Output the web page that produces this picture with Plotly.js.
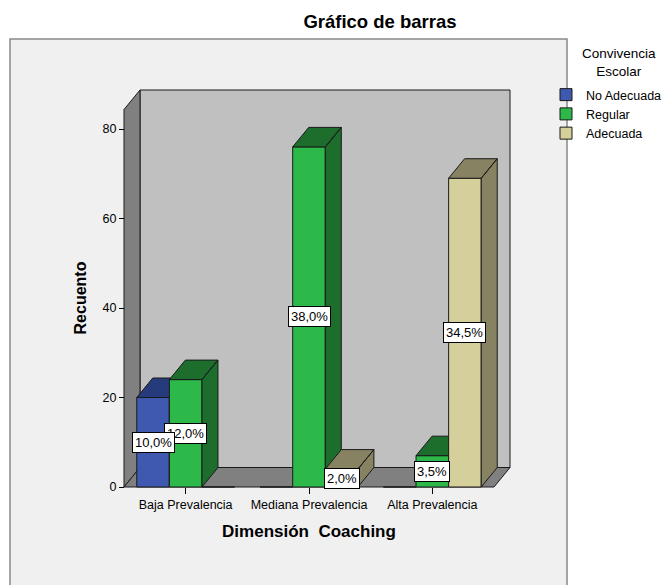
<!DOCTYPE html>
<html>
<head>
<meta charset="utf-8">
<script src="https://cdn.plot.ly/plotly-3.0.1.min.js"></script>
<style>html,body{margin:0;padding:0;background:#fff;}#chart{width:665px;height:585px;}</style>
</head>
<body>
<div id="chart"></div>
<script>
// ---- data ----
const categories = ['Baja Prevalencia', 'Mediana Prevalencia', 'Alta Prevalencia'];
const seriesNames = ['No Adecuada', 'Regular', 'Adecuada'];
const noAdecuada = [20, 0, 0];
const regular = [24, 76, 7];
const adecuada = [0, 4, 69];
const pctNoAdecuada = ['10,0%', '', ''];
const pctRegular = ['12,0%', '38,0%', '3,5%'];
const pctAdecuada = ['', '2,0%', '34,5%'];
const yTickVals = [0, 20, 40, 60, 80];
const legendTitle = 'Convivencia<br>Escolar';

// ---- styling / geometry ----
const FONT = 'Liberation Sans, Arial, sans-serif';
const frontColors = ['#3f58b0', '#2db84a', '#d5d09b'];
const darkColors = ['#263b7c', '#1d6e2c', '#878262'];
const edge = '#1a1a1a';
const W = 665, H = 585;
const plotL = 104, plotR = 514, plotT = 86, plotB = 510;
const axL = 124, axR = 494, y0px = 487, y80px = 129;
const xScale = (axR - axL) / categories.length;
const yScale = (y0px - y80px) / 80;
const xr = [-0.5 - (axL - plotL) / xScale, -0.5 + (plotR - axL) / xScale];
const yr = [-(plotB - y0px) / yScale, (y0px - plotT) / yScale];
const dx = 16 / xScale, dy = 19.5 / yScale;
const wallTop = (y0px - 109.5) / yScale;
const gap = 0.207;
const bw = (1 - gap) / 3;
const xIdx = categories.map((c, i) => i);

const seriesVals = [noAdecuada, regular, adecuada];
const seriesPct = [pctNoAdecuada, pctRegular, pctAdecuada];

const traces = [];
// walls (base subplot)
const x0w = -0.5, x1w = categories.length - 0.5;
function poly(xs, ys, fill) {
  return {type: 'scatter', mode: 'lines', x: xs, y: ys, fill: 'toself', fillcolor: fill,
    line: {color: edge, width: 1}, showlegend: false, hoverinfo: 'skip', xaxis: 'x', yaxis: 'y'};
}
traces.push(poly([x0w + dx, x1w + dx, x1w + dx, x0w + dx, x0w + dx],
                 [dy, dy, wallTop + dy, wallTop + dy, dy], '#c0c0c0'));
traces.push(poly([x0w, x0w, x0w + dx, x0w + dx, x0w],
                 [0, wallTop, wallTop + dy, dy, 0], '#808080'));
traces.push(poly([x0w, x1w, x1w + dx, x0w + dx, x0w],
                 [0, 0, dy, dy, 0], '#808080'));

// bars: one overlaid subplot per series for correct painting order
seriesVals.forEach((vals, k) => {
  const ax = 'x' + (k + 2), ay = 'y' + (k + 2);
  const off = -1.5 * bw + k * bw;
  traces.push({type: 'bar', x: xIdx, y: vals, name: seriesNames[k], xaxis: ax, yaxis: ay,
    width: bw, offset: off, marker: {color: frontColors[k], line: {color: edge, width: 1}},
    hoverinfo: 'skip'});
  const fx = [], fy = [];
  vals.forEach((h, i) => {
    if (!h) return;
    const a = i + off, b = a + bw;
    // top face
    fx.push(a, b, b + dx, a + dx, a, null);
    fy.push(h, h, h + dy, h + dy, h, null);
    // side face
    fx.push(b, b, b + dx, b + dx, b, null);
    fy.push(0, h, h + dy, dy, 0, null);
  });
  traces.push({type: 'scatter', mode: 'lines', x: fx, y: fy, fill: 'toself',
    fillcolor: darkColors[k], line: {color: edge, width: 1}, connectgaps: false,
    showlegend: false, hoverinfo: 'skip', xaxis: ax, yaxis: ay});
});

const plotW = plotR - plotL, plotH = plotB - plotT;

// percentage labels
const annotations = [];
for (let k = seriesVals.length - 1; k >= 0; k--) {
  const off = -1.5 * bw + k * bw;
  seriesVals[k].forEach((h, i) => {
    if (!h) return;
    annotations.push({xref: 'x', yref: 'y', x: i + off + bw / 2, y: h / 2,
      text: seriesPct[k][i], showarrow: false, bgcolor: '#ffffff', bordercolor: '#000000',
      borderwidth: 1, borderpad: 2, font: {family: FONT, size: 13, color: '#000'}});
  });
}
// legend title (centred above the legend entries)
annotations.push({xref: 'paper', yref: 'paper', x: (619 - plotL) / plotW, y: (plotB - 62) / plotH,
  xanchor: 'center', yanchor: 'middle', showarrow: false, text: legendTitle, align: 'center',
  font: {family: FONT, size: 13.5, color: '#000'}});

const layout = {
  width: W, height: H,
  margin: {l: plotL, r: W - plotR, t: plotT, b: H - plotB, pad: 0, autoexpand: false},
  paper_bgcolor: '#ffffff', plot_bgcolor: 'rgba(0,0,0,0)',
  font: {family: FONT, color: '#000'},
  title: {text: '<b>Gráfico de barras</b>', font: {family: FONT, size: 18.5, color: '#000'},
    x: (380 - plotL) / plotW, xref: 'paper', xanchor: 'center',
    y: 1 - 22 / H, yref: 'container', yanchor: 'middle'},
  showlegend: true,
  legend: {x: (546 - plotL) / plotW, xanchor: 'left', y: (plotB - 80) / plotH, yanchor: 'top',
    bgcolor: 'rgba(0,0,0,0)', font: {family: FONT, size: 12.5, color: '#000'},
    tracegroupgap: 0, itemclick: false, itemdoubleclick: false},
  xaxis: {range: xr, tickvals: xIdx, ticktext: categories, ticks: 'outside', ticklen: 6,
    tickcolor: '#000', tickwidth: 1, showline: false, showgrid: false, zeroline: false,
    anchor: 'free', position: (plotB - y0px) / plotH, fixedrange: true,
    tickfont: {family: FONT, size: 12.5, color: '#000'},
    title: {text: '<b>Dimensión\u00a0 Coaching</b>', font: {family: FONT, size: 17, color: '#000'}, standoff: 14}},
  yaxis: {range: yr, tickvals: yTickVals, ticks: 'outside', ticklen: 5, tickcolor: '#000',
    tickwidth: 1, showline: false, showgrid: false, zeroline: false,
    anchor: 'free', position: (axL - plotL) / plotW, fixedrange: true,
    tickfont: {family: FONT, size: 12.5, color: '#000'},
    title: {text: '<b>Recuento</b>', font: {family: FONT, size: 16, color: '#000'}, standoff: 10}},
  shapes: [{type: 'rect', xref: 'paper', yref: 'paper', layer: 'below',
    x0: (10 - plotL) / plotW, x1: (567 - plotL) / plotW,
    y0: (plotB - 600) / plotH, y1: (plotB - 39) / plotH,
    fillcolor: '#f0f0f0', line: {color: '#888888', width: 1.5}}],
  annotations: annotations
};
[2, 3, 4].forEach(n => {
  layout['xaxis' + n] = {range: xr, overlaying: 'x', anchor: 'y' + n, visible: false, fixedrange: true};
  layout['yaxis' + n] = {range: yr, overlaying: 'y', anchor: 'x' + n, visible: false, fixedrange: true};
});

Plotly.newPlot('chart', traces, layout, {displayModeBar: false, staticPlot: true});
</script>
</body>
</html>
